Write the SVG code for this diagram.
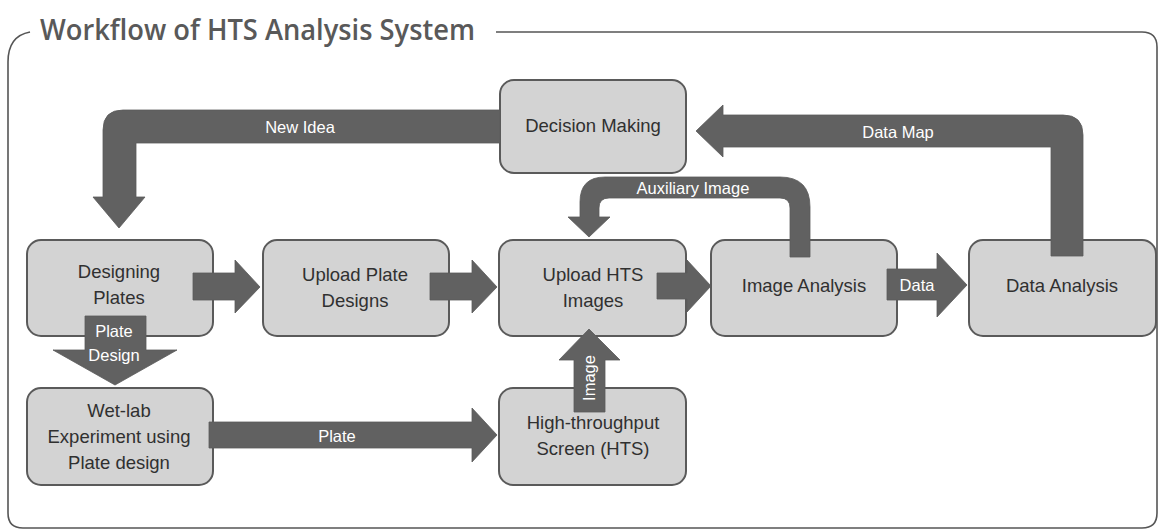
<svg xmlns="http://www.w3.org/2000/svg" width="1159" height="530" viewBox="0 0 1159 530">
<style>
.box{fill:#d3d3d3;stroke:#5a5a5a;stroke-width:2}
.t{font-family:"Liberation Sans",Arial,sans-serif;font-size:18.5px;fill:#303030;text-anchor:middle}
.arr{fill:#616161;stroke:#5a5a5a;stroke-width:0.8}
.lbl{font-family:"Liberation Sans",Arial,sans-serif;font-size:16.5px;fill:#ffffff;text-anchor:middle}
</style>
<rect width="1159" height="530" fill="#ffffff"/>
<g id="frame">
<path d="M30,32 Q8,36 8,62 L8,513 Q8,528 23,528 L1142,528 Q1157,528 1157,513 L1157,47 Q1157,32 1142,32 L496,32" fill="none" stroke="#555" stroke-width="1.6"/>
<text x="40" y="40" font-family="'Open Sans','Liberation Sans',Arial,sans-serif" font-weight="600" font-size="28" fill="#595959" textLength="435" lengthAdjust="spacingAndGlyphs">Workflow of HTS Analysis System</text>
</g>
<g id="decision"><rect class="box" x="500" y="80" width="186" height="93" rx="14"/><text class="t" x="593" y="132">Decision Making</text></g>
<g id="designing"><rect class="box" x="27" y="240" width="186" height="96" rx="14"/><text class="t" x="119" y="278">Designing</text><text class="t" x="119" y="304">Plates</text></g>
<g id="uploadplate"><rect class="box" x="263" y="240" width="186" height="96" rx="14"/><text class="t" x="355" y="281">Upload Plate</text><text class="t" x="355" y="307">Designs</text></g>
<g id="uploadhts"><rect class="box" x="499" y="240" width="187" height="96" rx="14"/><text class="t" x="593" y="281">Upload HTS</text><text class="t" x="593" y="307">Images</text></g>
<g id="imageanalysis"><rect class="box" x="711" y="240" width="186" height="96" rx="14"/><text class="t" x="804" y="292">Image Analysis</text></g>
<g id="dataanalysis"><rect class="box" x="969" y="240" width="187" height="96" rx="14"/><text class="t" x="1062" y="292">Data Analysis</text></g>
<g id="wetlab"><rect class="box" x="27" y="388" width="186" height="97" rx="14"/><text class="t" x="119" y="417">Wet-lab</text><text class="t" x="119" y="443">Experiment using</text><text class="t" x="119" y="469">Plate design</text></g>
<g id="hts"><rect class="box" x="499" y="388" width="187" height="97" rx="14"/><text class="t" x="593" y="429">High-throughput</text><text class="t" x="593" y="455">Screen (HTS)</text></g>
<g id="connectors">
<path class="arr" d="M500,110 L123,110 Q103,110 103,130 L103,197 L93,197 L119,228 L145,197 L136,197 L136,143 L500,143 Z"/>
<text class="lbl" x="300" y="133">New Idea</text>
<path class="arr" d="M1051,256 L1083,256 L1083,135 Q1083,115 1063,115 L723,115 L723,105 L696,131 L723,157 L723,147 L1051,147 Z"/>
<text class="lbl" x="898" y="138">Data Map</text>
<path class="arr" d="M790,257 L810,257 L810,207 Q810,177 780,177 L605,177 Q580,177 580,202 L580,217 L568,217 L589,237 L610,217 L599,217 L599,208 Q599,198 609,198 L780,198 Q790,198 790,208 Z"/>
<text class="lbl" x="693" y="194">Auxiliary Image</text>
<path class="arr" d="M193,273 L235,273 L235,260 L260,287 L235,313 L235,300 L193,300 Z"/>
<path class="arr" d="M430,273 L472,273 L472,260 L497,287 L472,313 L472,300 L430,300 Z"/>
<path class="arr" d="M657,273 L687,273 L687,260 L711,286 L687,312 L687,299 L657,299 Z"/>
<path class="arr" d="M887,269 L937,269 L937,253 L967,285 L937,317 L937,300 L887,300 Z"/>
<text class="lbl" x="917" y="291">Data</text>
<path class="arr" d="M85,316 L146,316 L146,350 L177,350 L115,385 L53,350 L85,350 Z"/>
<text class="lbl" x="114" y="337">Plate</text>
<text class="lbl" x="114" y="361">Design</text>
<path class="arr" d="M209,422 L472,422 L472,408 L497,435 L472,462 L472,448 L209,448 Z"/>
<text class="lbl" x="337" y="442">Plate</text>
<path class="arr" d="M574,412 L605,412 L605,360 L620,360 L589,329 L559,360 L574,360 Z"/>
<text class="lbl" x="0" y="0" transform="translate(595,378) rotate(-90)">Image</text>
</g>
</svg>
